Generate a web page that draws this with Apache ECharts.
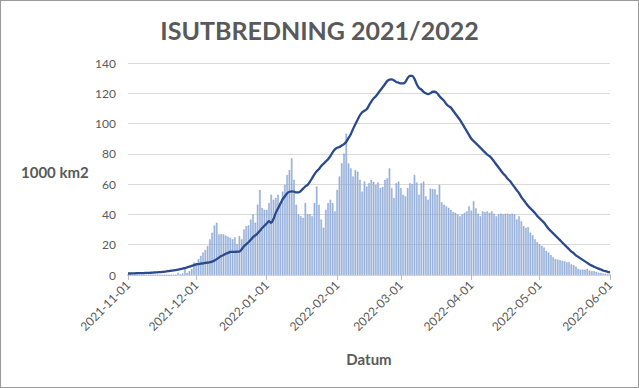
<!DOCTYPE html>
<html>
<head>
<meta charset="utf-8">
<script src="https://cdn.jsdelivr.net/npm/echarts@6/dist/echarts.min.js"></script>
<style>
html,body{margin:0;padding:0;background:#fff;}
#chart{width:639px;height:388px;box-sizing:border-box;border:1px solid #9a9a9a;}
</style>
</head>
<body>
<div id="chart"></div>
<script>
// ---- data ----
var startDate = '2021-11-01';
var dayCount = 213; // 2021-11-01 .. 2022-06-01
var monthTicks = ['2021-11-01','2021-12-01','2022-01-01','2022-02-01','2022-03-01','2022-04-01','2022-05-01','2022-06-01'];

// daily ice extent bars (1000 km2)
var dailyBars = [
  0,0,0,0,0,0,0,0,0,0,0,0,0,0,0,0,0,0,0,0,0,0,1.5,0.5,1,4,1.5,2.5,4,8.3,
  8,10.5,12.6,14.8,16.5,19,23.5,27.9,32.7,34.5,26.8,27,26.8,26,25.3,24.6,23.5,24.8,20.3,25.7,23.5,30,32.3,32.7,36.6,40,34.5,46.4,56.2,44.3,43,
  43,47.5,53,49.7,50.8,53,47.5,55,59.5,66,69.3,77,62.8,46.4,40,38.8,37.7,47.5,40,40,38.8,47.5,58.4,46.4,36.6,31.2,43,47.5,49.7,47.5,42,
  56.2,65,73.7,80.2,93.3,73.7,70.4,65,69.3,68.2,62.8,55,61.7,58.4,60.6,62.8,61.5,59.5,61,57.4,58,62.8,63.9,70.4,57.4,50.8,60.6,61.7,
  57.4,53,51.9,57.4,60.6,60,66,61,53,60.6,61.7,51.9,49.7,57,56.7,56.5,53,59.5,48,46.4,45.3,44.3,43,41.5,41,40,38.8,40,41,42,45.3,
  42.5,48.6,44,40.5,38.8,42,41.5,42,41,42,40.5,38.8,40,40.5,40,40.5,40.5,40,40.5,40,36.6,38.8,35.5,32.3,31.2,31.5,28,26.2,23.5,21.8,
  20.3,19.2,18.1,15.9,14.8,13.1,11.6,10.5,10.2,9.8,9.4,9,8.3,8.6,7,6.5,5.5,4,3.5,3.5,3.5,4,2.9,2.5,2.5,2,1.5,1.5,1,0.8,0.5,0
];

// smoothed line (1000 km2)
var smoothLine = [
  1.0,1.0,1.1,1.1,1.2,1.2,1.3,1.3,1.4,1.4,1.5,1.6,1.7,1.8,1.9,2.0,2.2,2.4,2.6,2.8,3.0,3.3,3.6,3.9,4.2,4.6,5.0,5.5,6.0,6.5,
  7.0,7.2,7.5,7.7,8.0,8.2,8.5,8.8,9.5,10.5,11.5,12.5,13.2,14.0,14.6,15.2,15.3,15.3,15.4,15.5,17.0,19.0,20.3,21.6,23.3,25.0,26.2,27.5,29.2,31.0,32.5,
  34,35.5,34.5,37,41,44,47,50,52,54,55,55.2,55,54.5,54.5,55.5,57,58.5,59.5,61.5,64,66.5,68.5,70,72,73.5,75,76.5,78.5,81,83,
  84,84.5,85.5,86.5,88,90.5,93,96.5,99.5,102.5,105.5,107.5,108.5,109.5,112,114.5,116.5,118,120,122,124,126,128,129,129.2,128.5,127.5,127,
  126.5,126.5,127.5,130,131.5,131.5,129.5,126,123.5,122.5,121,120,119.5,120,121,121,120,118,116.5,115,113,111.5,110.5,108.5,106.5,104.5,102.5,100,97.5,95,92.5,
  90,88.5,87,85.5,84,82.5,81,79.5,78.5,77,75,73,71,69,67,65.5,63.5,62,60,58,56,54,51.5,49.5,47.5,45.5,44,42.5,41,39,
  37.5,36,34.5,32.5,30.5,29,27.5,26,24.5,23,21.5,20,18.5,17,15.5,14.5,13,12,11,10,9,8,7,6.2,5.5,4.8,4.2,3.6,3.0,2.5,2.1,1.8
];

var yTicks = [0,20,40,60,80,100,120,140];

// ---- build categories ----
var dates = [];
(function(){
  var d = new Date(startDate + 'T00:00:00Z');
  for (var i = 0; i < dayCount; i++) {
    dates.push(d.toISOString().slice(0,10));
    d.setUTCDate(d.getUTCDate() + 1);
  }
})();

function isTick(idx, val){ return monthTicks.indexOf(val) >= 0; }

var FONT = 'Lato, "Open Sans", sans-serif';
var TXT = '#595959';

var chart = echarts.init(document.getElementById('chart'), null, {renderer:'svg'});
chart.setOption({
  animation: false,
  backgroundColor: '#ffffff',
  textStyle: {fontFamily: FONT},
  title: {
    text: 'ISUTBREDNING 2021/2022',
    left: 'center',
    top: 11,
    textStyle: {fontFamily: FONT, fontWeight: 'bold', fontSize: 25, color: TXT}
  },
  grid: {left: 127, right: 28, top: 62, bottom: 112, containLabel: false},
  xAxis: {
    type: 'category',
    data: dates,
    boundaryGap: false,
    name: 'Datum',
    nameLocation: 'middle',
    nameGap: 76,
    nameTextStyle: {fontFamily: FONT, fontWeight: 'bold', fontSize: 15, color: TXT},
    axisLine: {lineStyle: {color: '#d9d9d9', width: 1}},
    axisTick: {show: true, interval: isTick, length: 5, lineStyle: {color: '#bfbfbf'}},
    axisLabel: {interval: isTick, rotate: 45, margin: 8, fontSize: 12, color: TXT, fontFamily: FONT},
    splitLine: {show: false}
  },
  yAxis: {
    type: 'value',
    min: yTicks[0],
    max: yTicks[yTicks.length-1],
    interval: 20,
    axisLine: {show: false},
    axisTick: {show: false},
    axisLabel: {fontSize: 12, color: TXT, margin: 12, fontFamily: FONT},
    splitLine: {lineStyle: {color: '#d9d9d9', width: 1}}
  },
  graphic: [{
    type: 'text',
    left: 20,
    top: 163,
    style: {text: '1000 km2', fontFamily: FONT, fontWeight: 'bold', fontSize: 15, fill: TXT}
  }],
  series: [{
    type: 'bar',
    data: dailyBars,
    barCategoryGap: '35%',
    itemStyle: {color: '#A9C0E6', borderColor: '#5A7DBE', borderWidth: 0.3},
    z: 2
  }, {
    type: 'line',
    data: smoothLine,
    showSymbol: false,
    smooth: 0.3,
    lineStyle: {color: '#2B4A8B', width: 2.3},
    z: 3
  }]
});
</script>
</body>
</html>
